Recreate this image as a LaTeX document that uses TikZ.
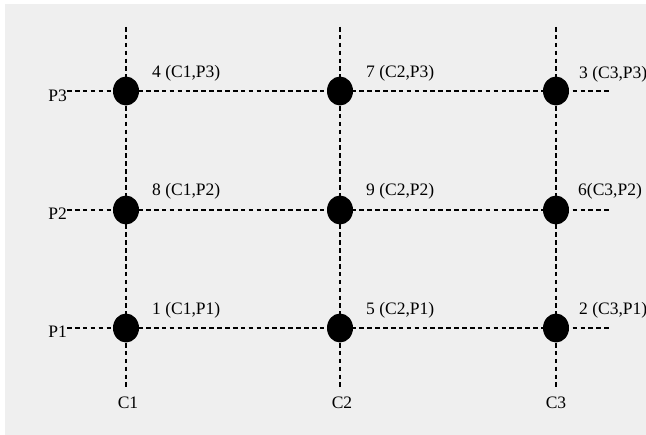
\documentclass[tikz,border=0pt]{standalone}
\usepackage{fontspec}
\setmainfont{Liberation Serif}
\usetikzlibrary{shapes.geometric}
\definecolor{bggray}{HTML}{EFEFEF}
\begin{document}
\begin{tikzpicture}[x=1pt,y=-1pt,
  gridline/.style={dash pattern=on 4.6pt off 3.3pt, line width=1.2pt},
  dot/.style={ellipse, fill=black, minimum width=26pt, minimum height=29pt, inner sep=0pt},
  lbl/.style={font=\fontsize{17.5}{20}\selectfont, inner sep=0pt, anchor=west},
  axislbl/.style={font=\fontsize{17.5}{20}\selectfont, inner sep=0pt}]
\useasboundingbox (0,0) rectangle (646,435);
\fill[white] (0,0) rectangle (646,435);
\fill[bggray] (5,4) rectangle (646,435);
% line end points
\coordinate (c1t) at (126,27); \coordinate (c1b) at (126,390);
\coordinate (c2t) at (340,27); \coordinate (c2b) at (340,390);
\coordinate (c3t) at (556,27); \coordinate (c3b) at (556,390);
\coordinate (p3l) at (67,91);  \coordinate (p3r) at (609,91);
\coordinate (p2l) at (67,210); \coordinate (p2r) at (609,210);
\coordinate (p1l) at (67,328); \coordinate (p1r) at (609,328);
% grid lines
\draw[gridline] (c1t) -- (c1b);
\draw[gridline] (c2t) -- (c2b);
\draw[gridline] (c3t) -- (c3b);
\draw[gridline] (p3l) -- (p3r);
\draw[gridline] (p2l) -- (p2r);
\draw[gridline] (p1l) -- (p1r);
% dots
\node[dot] (n4) at (126,91) {};
\node[dot] (n7) at (340,91) {};
\node[dot] (n3) at (556,91) {};
\node[dot] (n8) at (126,210) {};
\node[dot] (n9) at (340,210) {};
\node[dot] (n6) at (556,210) {};
\node[dot] (n1) at (126,328) {};
\node[dot] (n5) at (340,328) {};
\node[dot] (n2) at (556,328) {};
% point labels
\node[lbl] (l4) at (152,73) {4 (C1,P3)};
\node[lbl] (l7) at (366,73) {7 (C2,P3)};
\node[lbl] (l3) at (579,74) {3 (C3,P3)};
\node[lbl] (l8) at (152,191) {8 (C1,P2)};
\node[lbl] (l9) at (366,191) {9 (C2,P2)};
\node[lbl] (l6) at (578,191) {6(C3,P2)};
\node[lbl] (l1) at (152,310) {1 (C1,P1)};
\node[lbl] (l5) at (366,310) {5 (C2,P1)};
\node[lbl] (l2) at (579,310) {2 (C3,P1)};
% axis labels
\node[axislbl, anchor=east] (P3) at (67,96) {P3};
\node[axislbl, anchor=east] (P2) at (67,214) {P2};
\node[axislbl, anchor=east] (P1) at (67,332) {P1};
\node[axislbl] (C1) at (128,403) {C1};
\node[axislbl] (C2) at (342,403) {C2};
\node[axislbl] (C3) at (556,403) {C3};
\end{tikzpicture}
\end{document}
